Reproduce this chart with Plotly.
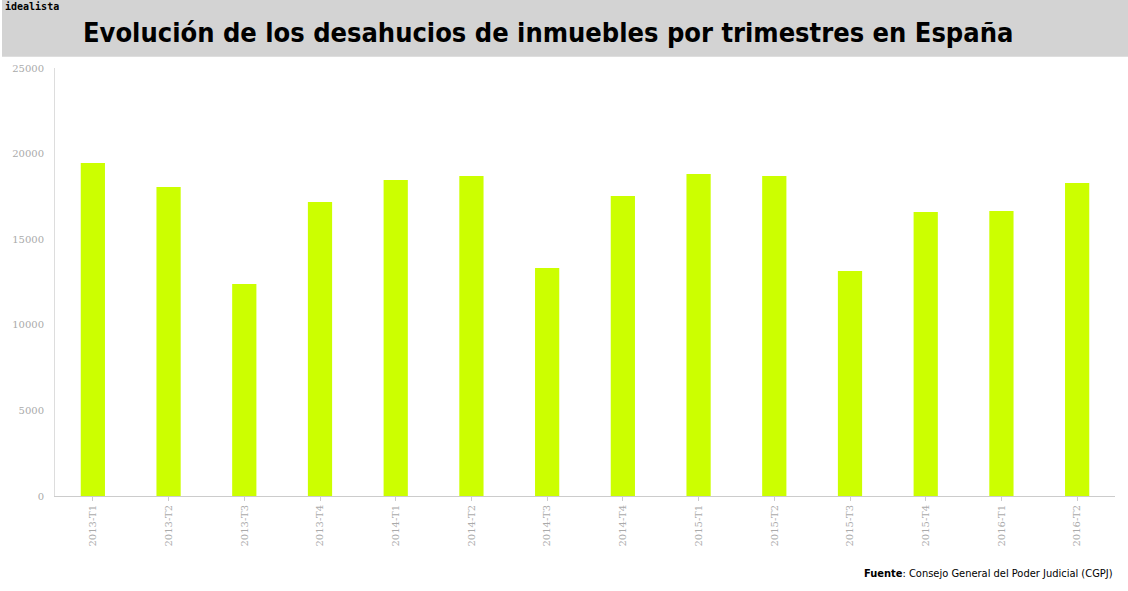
import plotly.graph_objects as go

categories = ["2013-T1","2013-T2","2013-T3","2013-T4","2014-T1","2014-T2","2014-T3","2014-T4",
              "2015-T1","2015-T2","2015-T3","2015-T4","2016-T1","2016-T2"]
values = [19450,18050,12380,17170,18460,18690,13320,17520,18810,18690,13140,16590,16650,18280]
y_ticks = [0,5000,10000,15000,20000,25000]

fig = go.Figure(go.Bar(x=categories, y=values, marker_color="#ccff00", marker_line_width=0))
fig.update_layout(
    width=1128, height=591, paper_bgcolor="white", plot_bgcolor="white",
    margin=dict(l=52, r=13, t=68, b=95), showlegend=False,
    bargap=0.68,
    font=dict(family="DejaVu Sans Condensed, Liberation Sans Narrow, sans-serif"),
    shapes=[dict(type="rect", xref="paper", yref="paper", x0=-0.05, x1=1.013, y0=1.026, y1=1.16,
                 fillcolor="#d3d3d3", line_width=0, layer="below")],
    annotations=[
        dict(text="<b>Evolución de los desahucios de inmuebles por trimestres en España</b>", xref="paper", yref="paper",
             x=0.465, y=1.083, xanchor="center", yanchor="middle", showarrow=False,
             font=dict(size=27, color="black", family="DejaVu Sans Condensed, sans-serif")),
        dict(text="<b>idealista</b>", xref="paper", yref="paper", x=-0.049, y=1.143, xanchor="left", yanchor="middle",
             showarrow=False, font=dict(size=10, color="black", family="DejaVu Sans Mono, monospace")),
        dict(text="<b>Fuente</b>: Consejo General del Poder Judicial (CGPJ)", xref="paper", yref="paper",
             x=1.0, y=-0.18, xanchor="right", yanchor="middle", showarrow=False,
             font=dict(size=11, color="black")),
    ],
)
fig.update_yaxes(range=[0,25000], tickvals=y_ticks, tickformat="d", showgrid=False, zeroline=False,
                 showline=True, linecolor="#dddddd", ticks="", tickfont=dict(size=10, color="#aaaaaa",
                 family="DejaVu Serif, serif"), ticklabelstandoff=8)
fig.update_xaxes(showline=True, linecolor="#cccccc", tickangle=-90, ticks="outside", ticklen=4,
                 tickcolor="#cccccc", tickfont=dict(size=10, color="#aaaaaa", family="DejaVu Serif, serif"))
fig.write_html("out.html", config={"displayModeBar": False}, post_script="document.body.style.margin='0';")
